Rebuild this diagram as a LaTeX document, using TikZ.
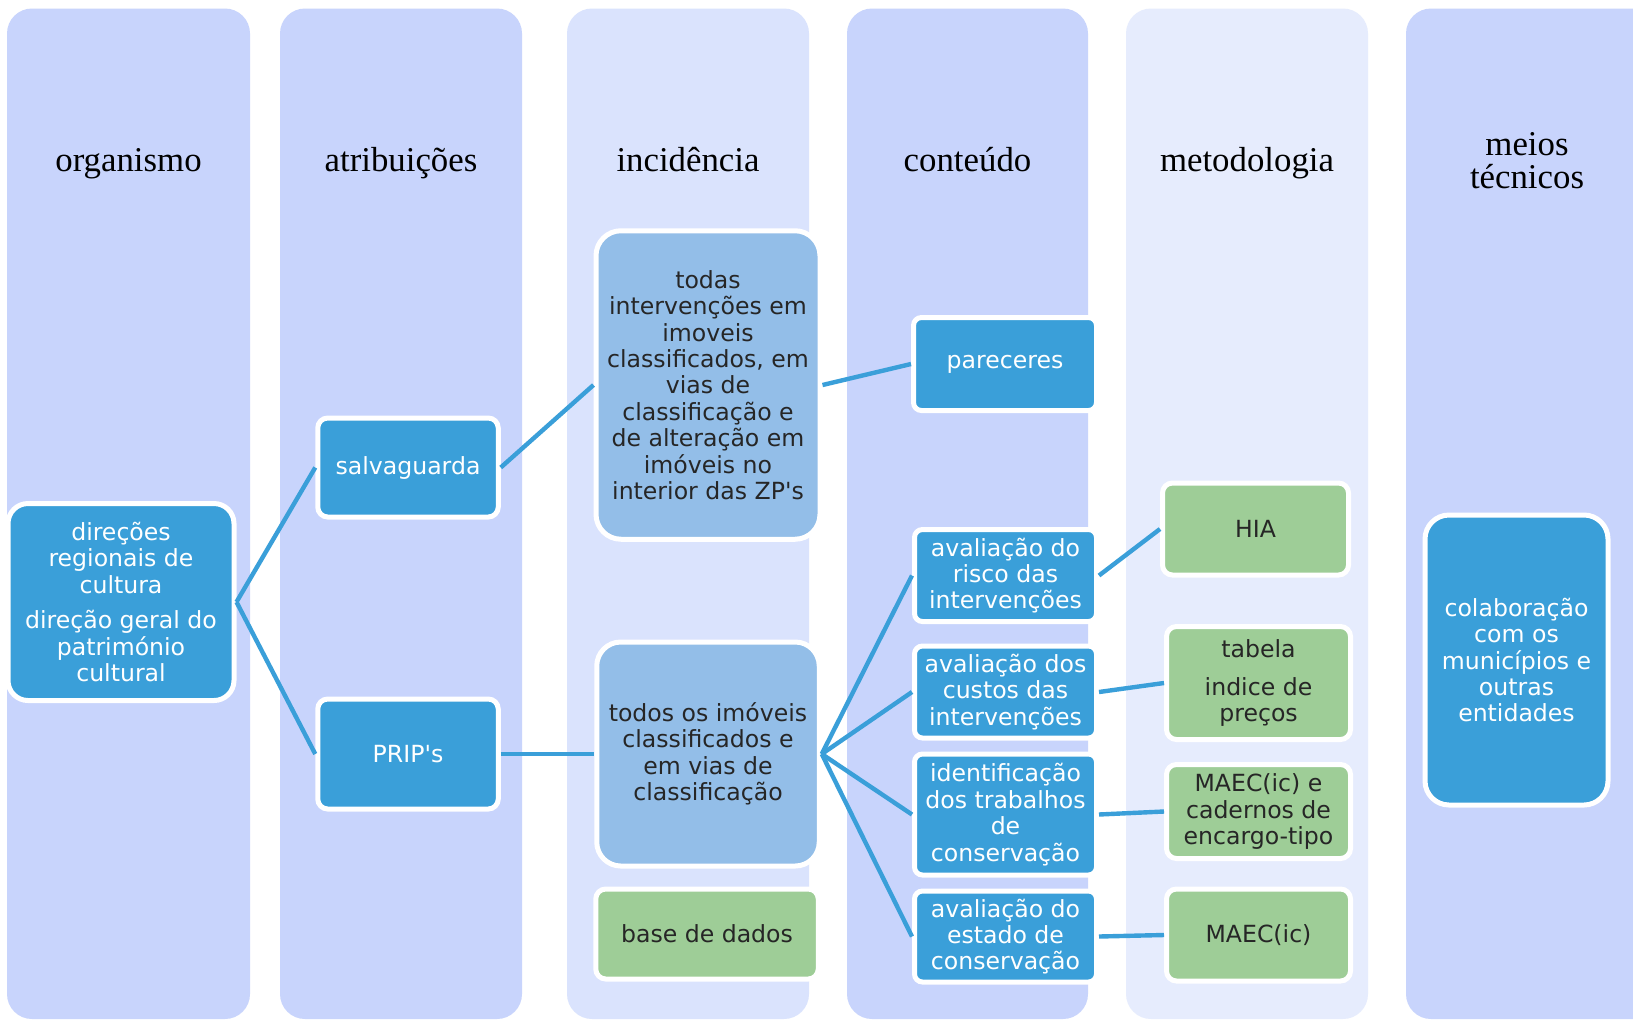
\documentclass[tikz,border=0pt]{standalone}
\usepackage{fontspec}
\setmainfont{Liberation Serif}
\newfontfamily\bodyfont{DejaVu Sans}
\definecolor{laneA}{RGB}{200,212,252}
\definecolor{laneB}{RGB}{218,227,253}
\definecolor{laneC}{RGB}{230,236,253}
\definecolor{nodeblue}{RGB}{58,159,217}
\definecolor{lightblue}{RGB}{147,190,232}
\definecolor{nodegreen}{RGB}{158,205,151}
\definecolor{textdark}{RGB}{38,38,38}
\begin{document}
\begin{tikzpicture}[x=0.5pt,y=-0.5pt,
  lane/.style={rounded corners=12.5pt},
  ttl/.style={font=\fontsize{17.4}{16.5}\selectfont, align=center, text=black},
  box/.style={draw=white, line width=2.5pt, rounded corners=5pt, align=center, inner sep=0pt,
              font=\bodyfont\fontsize{11.8}{13.2}\selectfont},
  bluebox/.style={box, fill=nodeblue, text=white},
  lightbox/.style={box, fill=lightblue, text=textdark},
  greenbox/.style={box, fill=nodegreen, text=textdark},
  link/.style={draw=nodeblue, line width=2.2pt}
]
\useasboundingbox (0,0) rectangle (1633,1019);
\clip (0,0) rectangle (1633,1019);
\fill[white] (0,0) rectangle (1633,1019);
% lanes
\fill[laneA, lane] (7,8.5) rectangle (250,1019);
\fill[laneA, lane] (280,8.5) rectangle (522,1019);
\fill[laneB, lane] (567,8.5) rectangle (809,1019);
\fill[laneA, lane] (847,8.5) rectangle (1088,1019);
\fill[laneC, lane] (1126,8.5) rectangle (1368,1019);
\fill[laneA, lane] (1406,8.5) rectangle (1660,1019);
% titles
\node[ttl, anchor=base] (t1) at (128.5,171) {organismo};
\node[ttl, anchor=base] (t2) at (401,171) {atribuições};
\node[ttl, anchor=base] (t3) at (688,171) {incidência};
\node[ttl, anchor=base] (t4) at (967.5,171) {conteúdo};
\node[ttl, anchor=base] (t5) at (1247,171) {metodologia};
\node[ttl] (t6) at (1527,161) {meios\\técnicos};
% nodes
\node[bluebox, rounded corners=10pt, minimum width=113pt, minimum height=98.5pt] (dir) at (121,602)
  {direções\\regionais de\\cultura\\[4.5pt]direção geral do\\património\\cultural};
\node[bluebox, minimum width=90.25pt, minimum height=49.5pt] (salv) at (408,467.5) {salvaguarda};
\node[bluebox, minimum width=90.25pt, minimum height=55pt] (prip) at (408,754) {PRIP's};
\node[lightbox, rounded corners=12.5pt, minimum width=112pt, minimum height=154.25pt] (todas) at (708,385)
  {todas\\intervenções em\\imoveis\\classificados, em\\vias de\\classificação e\\de alteração em\\imóveis no\\interior das ZP's};
\node[lightbox, rounded corners=12pt, minimum width=111.25pt, minimum height=112pt] (todos) at (708,754)
  {todos os imóveis\\classificados e\\em vias de\\classificação};
\node[greenbox, minimum width=111.25pt, minimum height=45pt] (base) at (707,934) {base de dados};
\node[bluebox, rounded corners=4pt, minimum width=91.5pt, minimum height=46.5pt] (par) at (1005,364) {pareceres};
\node[bluebox, rounded corners=4pt, minimum width=91pt, minimum height=46pt] (risco) at (1005.5,575.5)
  {avaliação do\\risco das\\intervenções};
\node[bluebox, rounded corners=4pt, minimum width=91pt, minimum height=46pt] (custos) at (1005.5,692)
  {avaliação dos\\custos das\\intervenções};
\node[bluebox, rounded corners=4pt, minimum width=91pt, minimum height=60.5pt] (ident) at (1005.5,814.5)
  {identificação\\dos trabalhos\\de\\conservação};
\node[bluebox, rounded corners=4pt, minimum width=91pt, minimum height=45.5pt] (estado) at (1005.5,936.5)
  {avaliação do\\estado de\\conservação};
\node[greenbox, minimum width=93pt, minimum height=46pt] (hia) at (1255.5,529) {HIA};
\node[greenbox, minimum width=92pt, minimum height=56.5pt] (tab) at (1258.5,683) {tabela\\[5.5pt]indice de\\preços};
\node[greenbox, minimum width=92pt, minimum height=47pt] (maece) at (1258.5,811.5) {MAEC(ic) e\\cadernos de\\encargo-tipo};
\node[greenbox, minimum width=92pt, minimum height=46pt] (maec) at (1258.5,935) {MAEC(ic)};
\node[bluebox, rounded corners=12pt, minimum width=91.5pt, minimum height=145pt] (colab) at (1516.5,660)
  {colaboração\\com os\\municípios e\\outras\\entidades};
% connectors
\draw[link] (dir.east) -- (salv.west);
\draw[link] (dir.east) -- (prip.west);
\draw[link] (salv.east) -- (todas.west);
\draw[link] (prip.east) -- (todos.west);
\draw[link] (todas.east) -- (par.west);
\draw[link] (todos.east) -- (risco.west);
\draw[link] (todos.east) -- (custos.west);
\draw[link] (todos.east) -- (ident.west);
\draw[link] (todos.east) -- (estado.west);
\draw[link] (risco.east) -- (hia.west);
\draw[link] (custos.east) -- (tab.west);
\draw[link] (ident.east) -- (maece.west);
\draw[link] (estado.east) -- (maec.west);
\end{tikzpicture}
\end{document}
